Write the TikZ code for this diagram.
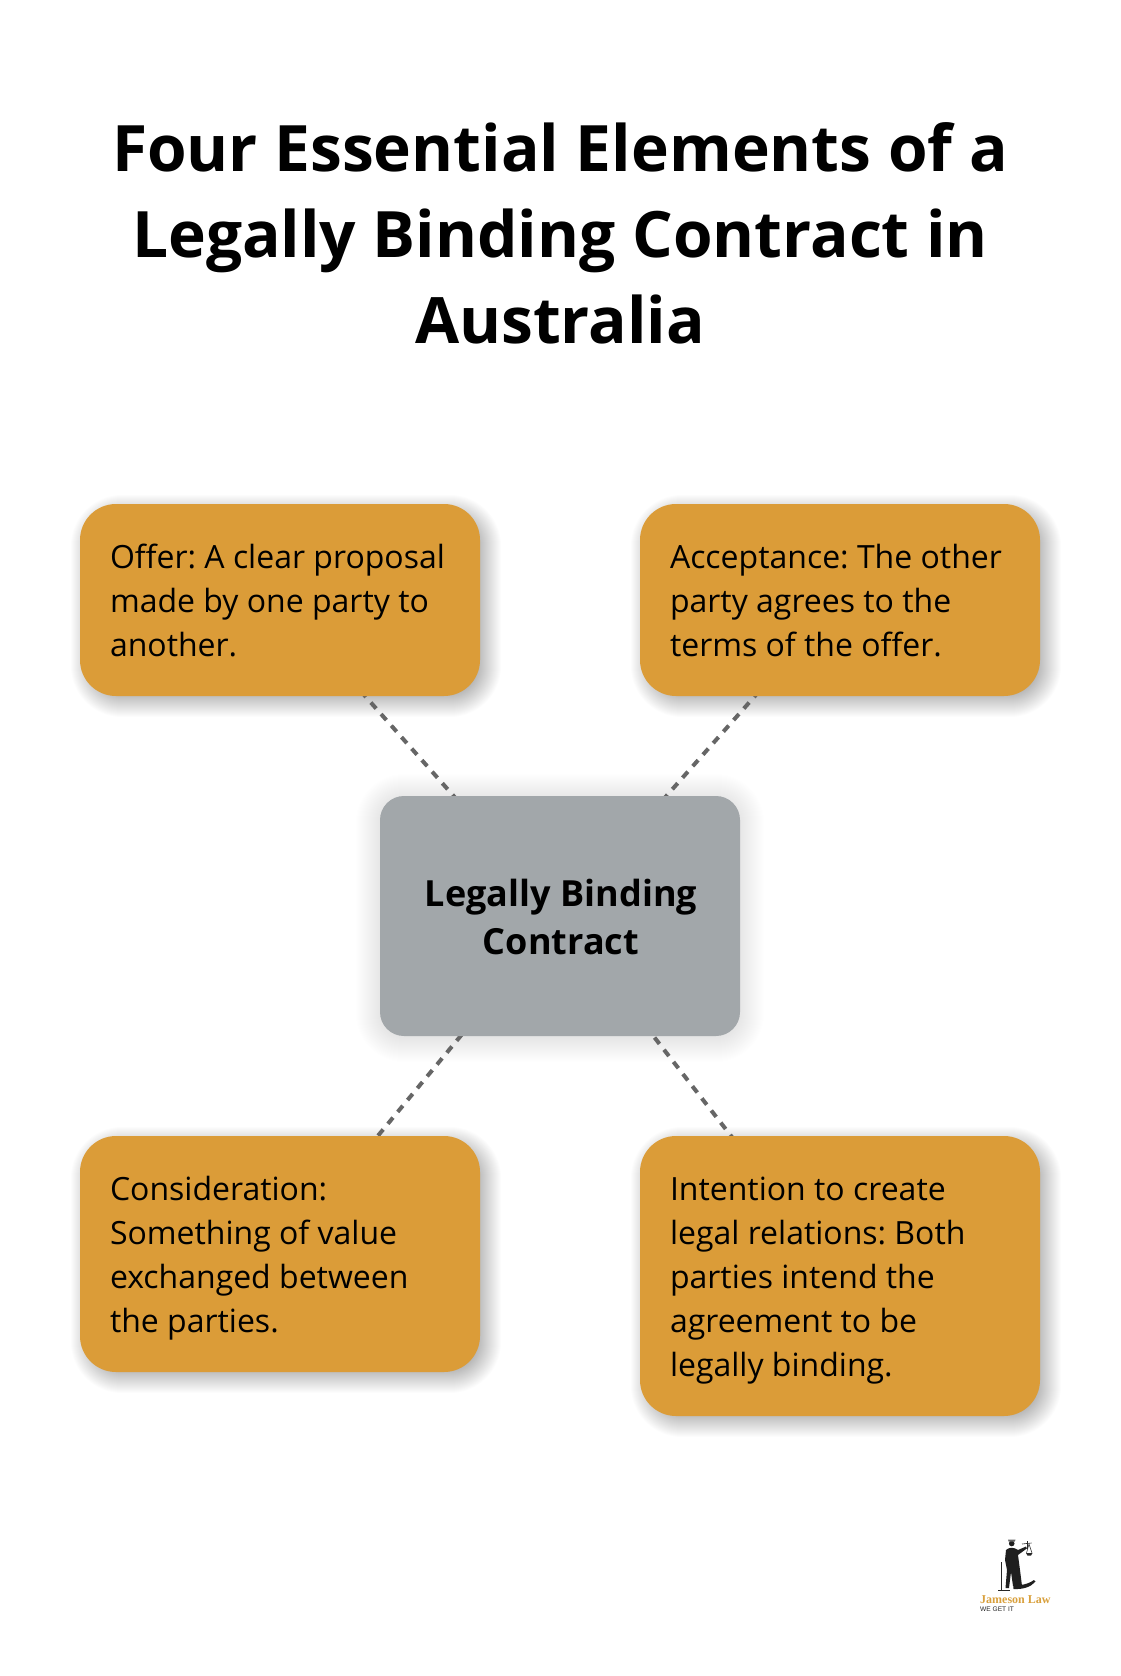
\documentclass[tikz,border=0pt]{standalone}
\usepackage{fontspec}
\setmainfont{Open Sans}
\newfontfamily\logoserif{Liberation Serif}
\newfontfamily\logosans{Liberation Sans}
\usetikzlibrary{backgrounds}
\definecolor{boxorange}{HTML}{DB9C38}
\definecolor{boxgray}{HTML}{A2A7AA}
\definecolor{dashgray}{HTML}{666666}
\definecolor{logogold}{HTML}{D9A03C}
\frenchspacing
\newcommand\lineA{\rule[-10pt]{0pt}{44pt}}
\newcommand\lineB{\rule[-10pt]{0pt}{48pt}}
% x1 y1 x2 y2 radius spread opacity
\newcommand\softshadow[7]{%
  \foreach \k in {1,...,#6}{%
    \pgfmathsetmacro\grow{#6/2-\k}%
    \pgfmathsetmacro\rad{max(#5+\grow,1)}%
    \fill[black,fill opacity=#7,rounded corners=\rad pt]
      (#1-\grow,#2-\grow) rectangle (#3+\grow,#4+\grow);
  }%
}
\tikzset{
  x=1pt,y=-1pt,
  titletext/.style={font=\fontsize{64}{86.4}\selectfont\bfseries,align=center,text=black,inner sep=0pt},
  itembox/.style={draw=none,fill=boxorange,rounded corners=36pt,minimum width=400pt,text width=340pt,
    inner xsep=30pt,inner ysep=0pt,align=flush left,text=black,font=\fontsize{32}{44}\selectfont\frenchspacing},
  hubbox/.style={draw=none,fill=boxgray,rounded corners=24pt,minimum width=360pt,minimum height=240pt,
    inner sep=0pt,align=center,text=black,font=\fontsize{36}{48}\selectfont\bfseries},
  linker/.style={draw=dashgray,line width=4pt,dash pattern=on 8pt off 7.4pt},
  logoink/.style={fill=black!88,draw=none},
}
\begin{document}
\begin{tikzpicture}
\useasboundingbox (0,0) rectangle (1120,1676);

\node[titletext] (title) at (560,236.3) {\rule[-22pt]{0pt}{86.4pt}Four Essential Elements of a\\\rule[-22pt]{0pt}{86.4pt}Legally Binding Contract in\\\rule[-22pt]{0pt}{86.4pt}Australia};

\node[hubbox] (hub) at (560,916) {\hspace*{2pt}\lineB Legally Binding\\\hspace*{2pt}\lineB Contract};
\node[itembox,minimum height=192pt] (offer) at (280,600) {\lineA Offer: A clear proposal\\\lineA made by one party to\\\lineA another.};
\node[itembox,minimum height=192pt] (accept) at (840,600) {\lineA Acceptance: The other\\\lineA party agrees to the\\\lineA terms of the offer.};
\node[itembox,minimum height=236pt] (consid) at (280,1254) {\lineA Consideration:\\\lineA Something of value\\\lineA exchanged between\\\lineA the parties.};
\node[itembox,minimum height=280pt] (intent) at (840,1276) {\lineA Intention to create\\\lineA legal relations: Both\\\lineA parties intend the\\\lineA agreement to be\\\lineA legally binding.};

\begin{scope}[on background layer]
  \fill[white] (0,0) rectangle (1120,1676);
  \softshadow{86}{510}{486}{702}{36}{32}{0.012}
  \softshadow{646}{510}{1046}{702}{36}{32}{0.012}
  \softshadow{86}{1142}{486}{1378}{36}{32}{0.012}
  \softshadow{646}{1142}{1046}{1422}{36}{32}{0.012}
  \softshadow{380}{798}{740}{1038}{24}{50}{0.0032}
  \draw[linker] (hub.center) -- (offer.center);
  \draw[linker] (hub.center) -- (accept.center);
  \draw[linker] (hub.center) -- (consid.center);
  \draw[linker] (hub.center) -- (intent.center);
\end{scope}

% logo
\fill[logoink] (1011.7,1543.5) circle (2.8pt);
\fill[black!60] (1008,1539.5) -- (1015.5,1539.5) -- (1014.8,1541.5) -- (1008.6,1541.5) -- cycle;
\fill[logoink] (1006,1550) .. controls (1009,1547) and (1014,1547) .. (1018,1550)
  -- (1026,1546.5) -- (1026.8,1548.5) -- (1018,1555) -- (1020,1570) -- (1022,1586)
  -- (1013,1586) -- (1011,1572) -- (1009,1588) -- (1005.5,1588) -- (1007,1570) -- (1005,1560) -- cycle;
\fill[logoink] (1013,1575) -- (1018,1575) -- (1019,1585) .. controls (1024,1585) and (1030,1583) .. (1034,1580)
  -- (1035.5,1581.5) .. controls (1031,1587) and (1023,1589.5) .. (1013.5,1589) -- cycle;
\draw[black!85,line width=.8pt] (1001.8,1562) -- (1001.8,1590);
\draw[black!85,line width=.8pt] (998,1590) -- (1010,1590);
\draw[black!85,line width=.6pt] (1027,1541) -- (1027,1549);
\draw[black!85,line width=.6pt] (1022,1544) -- (1031.5,1543);
\draw[black!85,line width=.5pt] (1029,1544) -- (1026.5,1553) (1029,1544) -- (1032,1553);
\fill[black!85] (1026,1553) -- (1032.5,1553) -- (1031,1555.5) -- (1027.5,1555.5) -- cycle;
\node[inner sep=0pt,anchor=base west,text=logogold,font=\fontsize{12}{12}\logoserif\bfseries] (logoname) at (980,1603) {Jameson Law};
\node[inner sep=0pt,anchor=base west,text=black!85,font=\fontsize{6.6}{7}\logosans] (logotag) at (980,1611) {WE GET IT};
\end{tikzpicture}
\end{document}
